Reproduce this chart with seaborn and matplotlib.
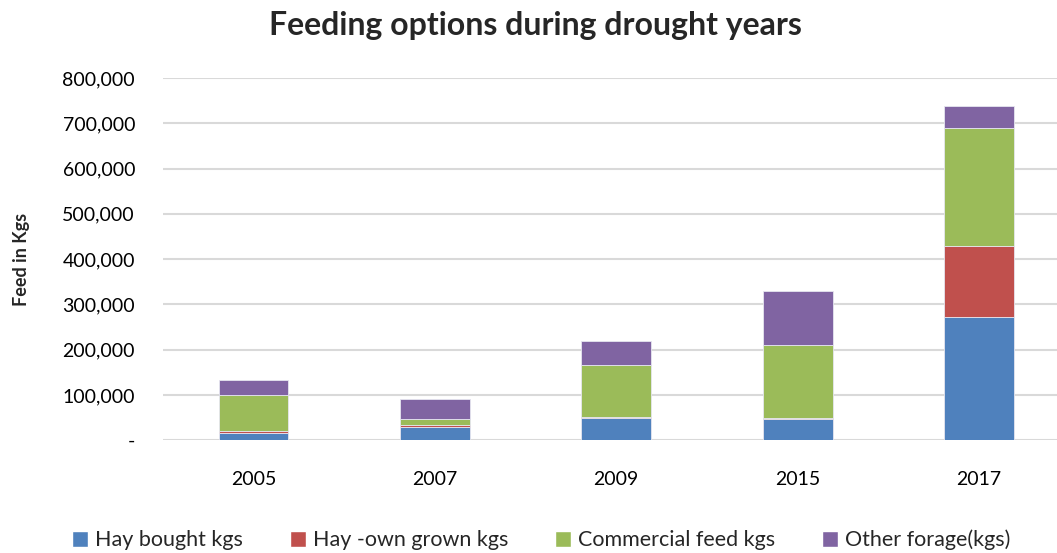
import pandas as pd
import matplotlib.pyplot as plt
import matplotlib.ticker as mticker
from matplotlib.patches import Patch
import seaborn as sns

# values
years = ['2005', '2007', '2009', '2015', '2017']
hay_bought = [16000, 28700, 50000, 46000, 272000]
hay_own = [4000, 5200, 2000, 2000, 157000]
commercial = [78800, 13100, 114000, 162000, 261000]
other_forage = [33200, 45000, 53000, 119000, 48000]

series_names = ['Hay bought kgs', 'Hay -own grown kgs', 'Commercial feed kgs', 'Other forage(kgs)']
series_colors = ['#4F81BD', '#C0504D', '#9BBB59', '#8064A2']

df = pd.DataFrame({
    'year': years,
    series_names[0]: hay_bought,
    series_names[1]: hay_own,
    series_names[2]: commercial,
    series_names[3]: other_forage,
})

sns.set_style('white')
plt.rcParams['font.family'] = ['Lato', 'DejaVu Sans']

fig = plt.figure(figsize=(10.57, 5.53), dpi=100)
# plot area runs a bit past the right edge, like the cropped original
ax = fig.add_axes([0.154, 0.204, 0.858, 0.655])

bottom = pd.Series([0] * len(years), dtype=float)
for name, color in zip(series_names, series_colors):
    sns.barplot(data=df, x='year', y=name, color=color, bottom=bottom.values,
                width=0.385, saturation=1, ax=ax, edgecolor='#E6E6F0',
                linewidth=0.6, zorder=3)
    bottom = bottom + df[name]

ax.set_ylim(0, 800000)
ax.set_xlim(-0.5, 4.5)
ax.yaxis.set_major_locator(mticker.MultipleLocator(100000))
ax.yaxis.set_major_formatter(mticker.FuncFormatter(lambda v, p: '-' if v == 0 else f'{int(v):,}'))
ax.grid(axis='y', color='#D9D9D9', linewidth=1.5, zorder=0)
ax.set_axisbelow(True)
for s in ax.spines.values():
    s.set_visible(False)
ax.tick_params(axis='both', length=0, labelsize=14, colors='black')
ax.tick_params(axis='x', pad=22)
ax.tick_params(axis='y', pad=20)
ax.set_xlabel('')
ax.set_ylabel('Feed in Kgs', fontsize=13, fontweight='bold')
ax.yaxis.set_label_coords(-0.146, 0.5)

fig.suptitle('Feeding options during drought years', fontsize=23, fontweight='bold',
             x=0.507, y=0.98)

handles = [Patch(facecolor=c, label=n) for n, c in zip(series_names, series_colors)]
fig.legend(handles=handles, loc='lower center', ncol=4, frameon=False,
           fontsize=15.5, handlelength=0.75, handleheight=0.75, handletextpad=0.3,
           columnspacing=2.2, bbox_to_anchor=(0.512, -0.03))

fig.savefig('out.png', dpi=100)
